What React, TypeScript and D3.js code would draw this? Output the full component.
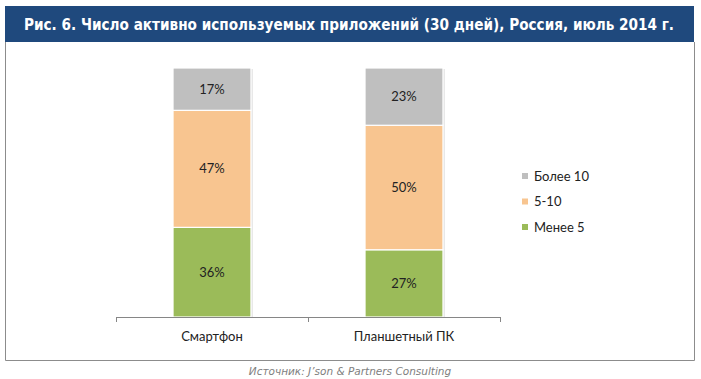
import React from "react";
import * as d3 from "d3";

const categories = ["Смартфон", "Планшетный ПК"];
const seriesNames = ["Менее 5", "5-10", "Более 10"];
const less5 = [36, 27];
const from5to10 = [47, 50];
const more10 = [17, 23];
const seriesColors = ["#9BBB59", "#F8C590", "#BFBFBF"];
const legendOrder = ["Более 10", "5-10", "Менее 5"];
const title = "Рис. 6. Число активно используемых приложений (30 дней), Россия, июль 2014 г.";
const source = "Источник: J’son & Partners Consulting";

const W = 701;
const H = 379;

export default function App() {
  const rows = categories.map((c, i) => ({
    cat: c,
    "Менее 5": less5[i],
    "5-10": from5to10[i],
    "Более 10": more10[i],
  }));
  const stacked = d3.stack<any>().keys(seriesNames)(rows);
  const x = d3.scaleBand<string>().domain(categories).range([116, 500]).paddingInner(0.594).paddingOuter(0.297);
  const y = d3.scaleLinear().domain([0, 100]).range([317, 68]);
  const color = d3.scaleOrdinal<string, string>().domain(seriesNames).range(seriesColors);
  const step = x.step();
  const bw = x.bandwidth();
  const boundaries = [0, 1, 2].map((i) => 116 + i * step);
  const legendY = d3.scalePoint<string>().domain(legendOrder).range([176, 227]);
  const font = "Lato, 'Open Sans', 'DejaVu Sans', sans-serif";

  return (
    <svg width={W} height={H} style={{ position: "absolute", left: 0, top: 0, background: "#fff" }}>
      <rect x={0} y={0} width={W} height={H} fill="#fff" />
      {/* frame */}
      <rect x={5} y={6} width={689} height={36} fill="#1F497D" />
      <path d="M5.5,42 V360.5 H694.5 V42" fill="none" stroke="#8c8c8c" strokeWidth={1} />
      <text
        x={24}
        y={29.5}
        fill="#fff"
        fontFamily="'Liberation Sans Narrow', 'DejaVu Sans Condensed', Roboto, sans-serif"
        fontWeight="bold"
        fontSize={15}
        textLength={650}
        lengthAdjust="spacingAndGlyphs"
      >
        {title}
      </text>
      {/* bar shadows */}
      {categories.map((c) => (
        <rect key={"sh" + c} x={(x(c) as number) + 2} y={y(100) + 1} width={bw} height={y(0) - y(100) - 1} fill="#e8e8e8" />
      ))}
      {/* bars */}
      {stacked.map((s) => (
        <g key={s.key}>
          {s.map((d, i) => {
            const cx = x(categories[i]) as number;
            const y0 = y(d[1]);
            const y1 = y(d[0]);
            return (
              <g key={i}>
                <rect x={cx} y={y0} width={bw} height={y1 - y0} fill={color(s.key)} stroke="#fff" strokeWidth={1.2} />
                <text
                  x={cx + bw / 2}
                  y={(y0 + y1) / 2 + 4.5}
                  textAnchor="middle"
                  fontFamily={font}
                  fontSize={13}
                  fill="#222"
                >
                  {`${d[1] - d[0]}%`}
                </text>
              </g>
            );
          })}
        </g>
      ))}
      {/* axis */}
      <line x1={116} x2={500} y1={317.5} y2={317.5} stroke="#868686" />
      {boundaries.map((b, i) => (
        <line key={i} x1={b + 0.5} x2={b + 0.5} y1={317} y2={322} stroke="#868686" />
      ))}
      {categories.map((c) => (
        <text key={c} x={(x(c) as number) + bw / 2} y={340.5} textAnchor="middle" fontFamily={font} fontSize={13} fill="#222">
          {c}
        </text>
      ))}
      {/* legend */}
      {legendOrder.map((n) => (
        <g key={n}>
          <rect x={522} y={legendY(n)! - 3} width={6} height={6} fill={color(n)} />
          <text x={534} y={legendY(n)! + 4.5} fontFamily={font} fontSize={13} fill="#222">
            {n}
          </text>
        </g>
      ))}
      <text x={350} y={374.5} textAnchor="middle" fontFamily="'DejaVu Sans', sans-serif" fontStyle="italic" fontSize={10.5} fill="#808080">
        {source}
      </text>
    </svg>
  );
}
